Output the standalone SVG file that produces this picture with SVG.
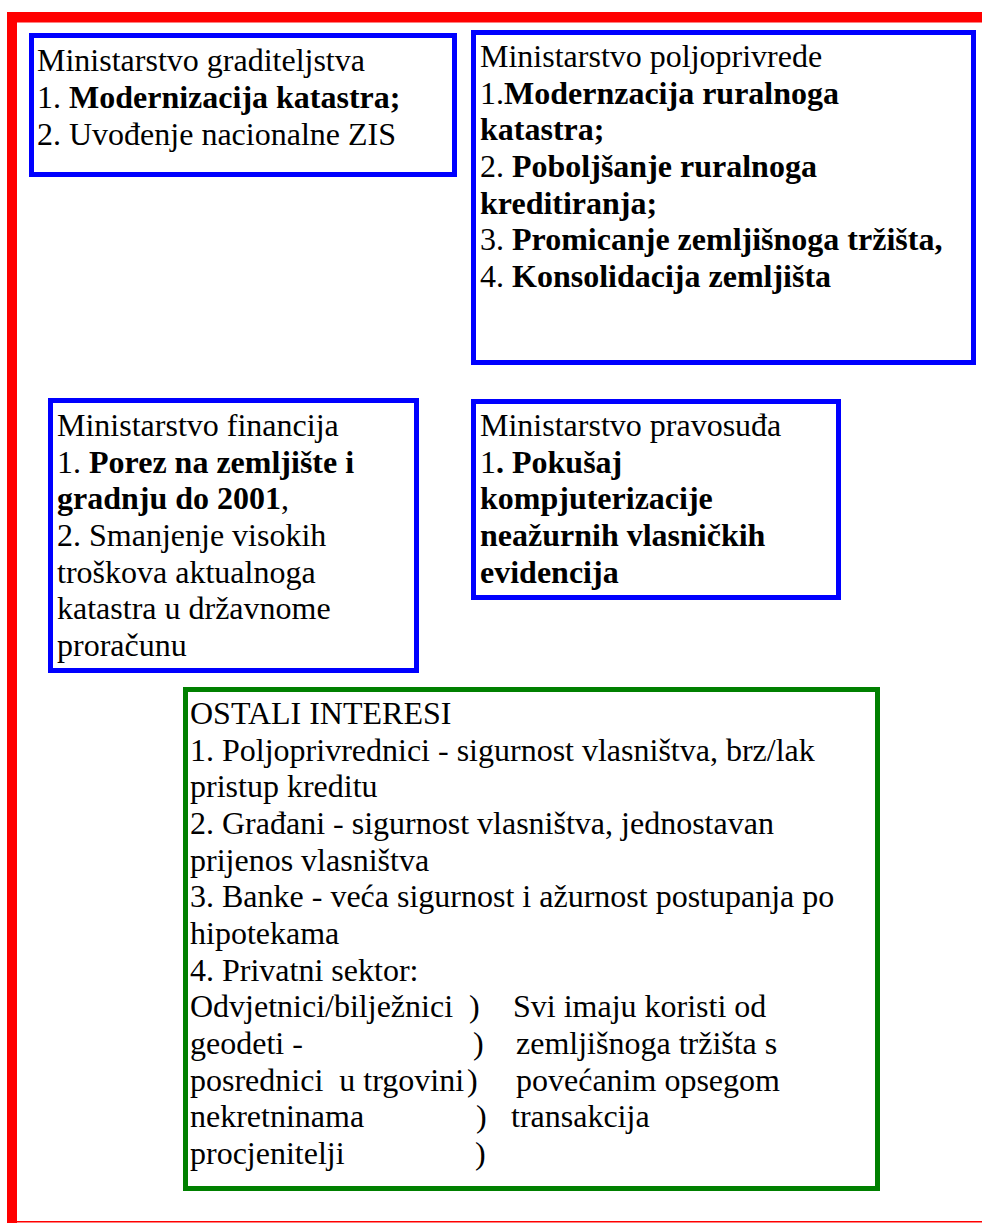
<svg xmlns="http://www.w3.org/2000/svg" width="982" height="1223" viewBox="0 0 982 1223">
<style>
text{font-family:"Liberation Serif","Times New Roman",serif;font-size:32px;fill:#000}
.b{font-weight:bold}
.blue{fill:#fff;stroke:#0000ff;stroke-width:5}
.green{fill:#fff;stroke:#008000;stroke-width:5}
.red{fill:#ff0000}
</style>
<rect width="982" height="1223" fill="#fff"/>
<g id="frame">
<rect class="red" x="7" y="12" width="975" height="10.5"/>
<rect class="red" x="7" y="12" width="10" height="1211"/>
<rect class="red" x="7" y="1221" width="975" height="1.5"/>
</g>
<g id="connectors"/>
<g id="graditeljstva">
<rect class="blue" x="31.5" y="35.5" width="423" height="139"/>
<text x="37" y="71">Ministarstvo graditeljstva</text>
<text x="37" y="108">1. <tspan class="b">Modernizacija katastra;</tspan></text>
<text x="37" y="145">2. Uvođenje nacionalne ZIS</text>
</g>
<g id="poljoprivrede">
<rect class="blue" x="473.5" y="32.5" width="500" height="330"/>
<text x="480" y="67">Ministarstvo poljoprivrede</text>
<text x="480" y="103.7">1.<tspan class="b">Modernzacija ruralnoga</tspan></text>
<text x="480" y="140.4" class="b">katastra;</text>
<text x="480" y="177">2. <tspan class="b">Poboljšanje ruralnoga</tspan></text>
<text x="480" y="213.7" class="b">kreditiranja;</text>
<text x="480" y="250.4">3. <tspan class="b">Promicanje zemljišnoga tržišta,</tspan></text>
<text x="480" y="287">4. <tspan class="b">Konsolidacija zemljišta</tspan></text>
</g>
<g id="financija">
<rect class="blue" x="50.5" y="400.5" width="366" height="270"/>
<text x="57" y="436">Ministarstvo financija</text>
<text x="57" y="472.7">1. <tspan class="b">Porez na zemljište i</tspan></text>
<text x="57" y="509.4"><tspan class="b">gradnju do 2001</tspan>,</text>
<text x="57" y="546">2. Smanjenje visokih</text>
<text x="57" y="582.7">troškova aktualnoga</text>
<text x="57" y="619.4">katastra u državnome</text>
<text x="57" y="656">proračunu</text>
</g>
<g id="pravosudja">
<rect class="blue" x="473.5" y="401.5" width="365" height="196"/>
<text x="480" y="436">Ministarstvo pravosuđa</text>
<text x="480" y="472.7">1<tspan class="b">. Pokušaj</tspan></text>
<text x="480" y="509.4" class="b">kompjuterizacije</text>
<text x="480" y="546" class="b">neažurnih vlasničkih</text>
<text x="480" y="582.7" class="b">evidencija</text>
</g>
<g id="ostali">
<rect class="green" x="185.5" y="689.5" width="692" height="499"/>
<text x="190" y="724">OSTALI INTERESI</text>
<text x="190" y="760.7">1. Poljoprivrednici - sigurnost vlasništva, brz/lak</text>
<text x="190" y="797.4">pristup kreditu</text>
<text x="190" y="834">2. Građani - sigurnost vlasništva, jednostavan</text>
<text x="190" y="870.7">prijenos vlasništva</text>
<text x="190" y="907.4">3. Banke - veća sigurnost i ažurnost postupanja po</text>
<text x="190" y="944">hipotekama</text>
<text x="190" y="980.7">4. Privatni sektor:</text>
<text x="190" y="1017.4">Odvjetnici/bilježnici</text>
<text x="469" y="1017.4">)</text>
<text x="513" y="1017.4">Svi imaju koristi od</text>
<text x="190" y="1054">geodeti -</text>
<text x="473" y="1054">)</text>
<text x="516" y="1054">zemljišnoga tržišta s</text>
<text x="190" y="1090.7" xml:space="preserve">posrednici  u trgovini</text>
<text x="467" y="1090.7">)</text>
<text x="516" y="1090.7">povećanim opsegom</text>
<text x="190" y="1127.4">nekretninama</text>
<text x="476" y="1127.4">)</text>
<text x="511" y="1127.4">transakcija</text>
<text x="190" y="1164">procjenitelji</text>
<text x="475" y="1164">)</text>
</g>
</svg>
